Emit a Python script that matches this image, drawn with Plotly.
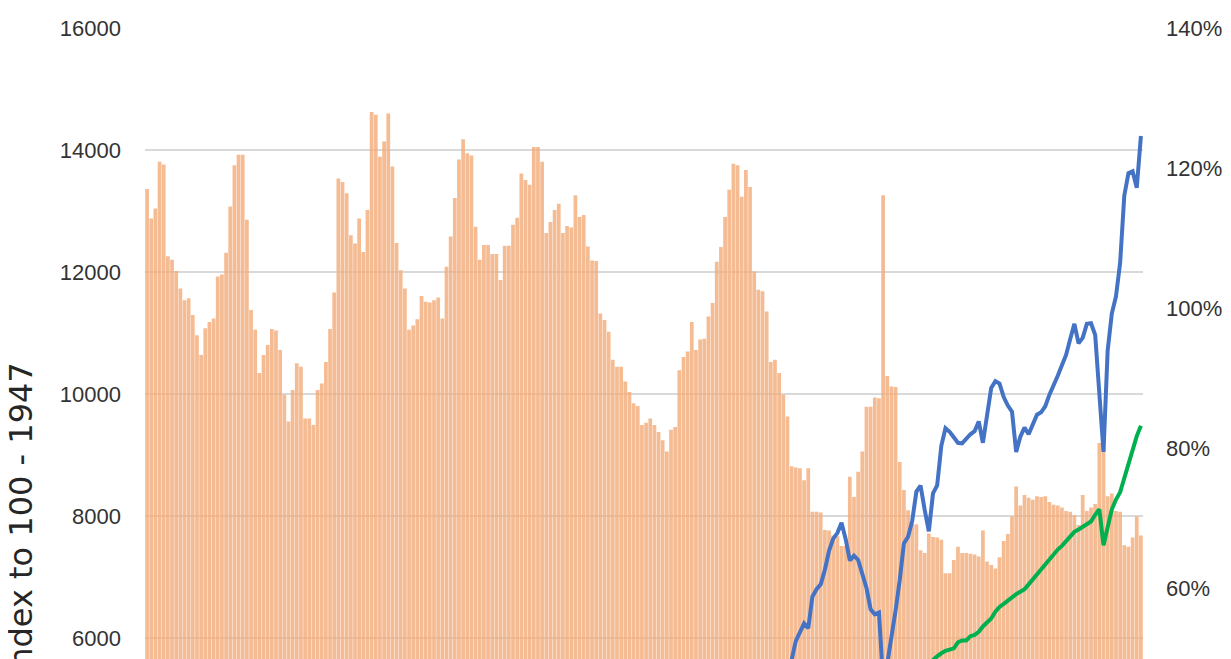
import plotly.graph_objects as go

# Quarterly periods (bar index), ratio bars in % (right axis), index lines (left axis)
periods = list(range(240))

ratio_pct = [
    117.0, 112.8, 114.2, 120.9, 120.5, 107.4, 106.9, 105.3, 102.8, 101.1,
    101.4, 99.0, 96.1, 93.3, 97.1, 98.0, 98.5, 104.5, 104.8, 107.9,
    114.5, 120.4, 121.9, 121.9, 112.6, 99.7, 96.9, 90.7, 93.3, 94.7,
    97.0, 96.8, 94.0, 87.6, 83.8, 88.3, 92.1, 91.6, 84.2, 84.2,
    83.3, 88.3, 89.2, 92.3, 97.0, 102.2, 118.5, 118.0, 116.4, 110.4,
    109.2, 112.8, 108.0, 114.0, 128.0, 127.6, 121.6, 123.8, 127.8, 120.2,
    109.3, 105.4, 102.8, 96.9, 97.5, 98.4, 101.7, 100.9, 100.8, 101.1,
    101.5, 98.5, 105.9, 110.2, 115.7, 121.2, 124.1, 122.1, 121.8, 111.6,
    106.9, 109.0, 109.0, 107.7, 107.7, 104.0, 108.9, 108.9, 111.9, 112.9,
    119.2, 118.3, 117.6, 123.0, 123.0, 120.9, 110.7, 112.3, 114.0, 114.9,
    110.7, 111.7, 111.5, 116.1, 113.0, 113.3, 108.8, 106.8, 106.7, 99.2,
    98.3, 96.6, 92.6, 91.6, 91.6, 89.5, 88.0, 86.4, 86.0, 83.3,
    83.6, 84.2, 83.3, 82.3, 81.1, 79.5, 82.6, 83.0, 91.1, 93.0,
    93.8, 98.0, 94.0, 95.5, 95.6, 98.8, 100.7, 106.6, 108.7, 113.0,
    116.9, 120.6, 120.4, 115.9, 119.7, 117.3, 105.2, 102.6, 102.4, 99.5,
    92.3, 92.6, 90.7, 87.6, 84.5, 77.4, 77.2, 77.1, 75.4, 77.1,
    70.9, 70.9, 70.8, 68.3, 68.2, 67.5, 67.4, 66.0, 66.0, 75.9,
    73.0, 76.6, 79.5, 85.9, 85.9, 87.2, 87.1, 116.1, 90.3, 88.8,
    88.7, 78.0, 74.0, 71.1, 69.2, 69.1, 65.4, 65.0, 67.8, 67.3,
    67.2, 66.9, 62.1, 62.1, 64.0, 65.9, 65.0, 65.0, 64.9, 64.8,
    64.5, 68.2, 63.8, 63.3, 62.8, 64.4, 66.7, 67.7, 70.2, 74.5,
    71.8, 73.3, 72.9, 72.6, 73.1, 73.0, 73.1, 72.3, 71.9, 71.8,
    71.5, 71.0, 70.9, 70.4, 69.0, 73.3, 71.0, 71.5, 72.0, 80.7,
    80.4, 73.1, 73.5, 71.0, 70.9, 66.1, 65.9, 67.2, 70.2, 67.5,
]

blue_start = 154
blue_index = [
    5450, 5640, 5950, 6080, 6240, 6160, 6680, 6800, 6880, 7120,
    7430, 7630, 7720, 7890, 7620, 7270, 7350, 7280, 7040, 6820,
    6470, 6390, 6420, 5300, 5580, 5970, 6450, 6950, 7550, 7660,
    7920, 8400, 8500, 8100, 7750, 8370, 8500, 9150, 9440, 9380,
    9290, 9200, 9190, 9270, 9340, 9390, 9550, 9200, 9700, 10100,
    10210, 10170, 9950, 9810, 9710, 9050, 9300, 9450, 9340, 9500,
    9660, 9700, 9800, 9990, 10130, 10300, 10470, 10640, 10900, 11150,
    10830, 10920, 11150, 11160, 10970, 10060, 9050, 10710, 11320, 11600,
    12150, 13250, 13620, 13650, 13380, 14230,
]

green_start = 188
green_index = [
    5580, 5650, 5700, 5750, 5790, 5810, 5830, 5930, 5960, 5960,
    6030, 6050, 6100, 6190, 6250, 6320, 6430, 6510, 6560, 6620,
    6680, 6720, 6760, 6800, 6880, 6960, 7050, 7130, 7220, 7300,
    7370, 7450, 7510, 7590, 7670, 7740, 7780, 7820, 7860, 7910,
    8020, 8110, 7520, 7830, 8110, 8270, 8390, 8620, 8870, 9100,
    9310, 9480,
]

left_ticks = [6000, 8000, 10000, 12000, 14000, 16000]
right_ticks = [60, 80, 100, 120, 140]
axis_title = "Index to 100 - 1947"

TICK_FONT = dict(family="Liberation Sans, Arial, sans-serif", size=22, color="#333333")

fig = go.Figure()

# bars sit on the primary y axis (drawn on the right) so the lines overlay them
fig.add_trace(go.Bar(
    x=periods, y=ratio_pct, yaxis="y",
    marker=dict(color="rgba(243,173,124,0.82)", line=dict(width=0)),
    showlegend=False,
))
fig.add_trace(go.Scatter(
    x=periods[blue_start:], y=blue_index, yaxis="y2", mode="lines",
    line=dict(color="#4472C4", width=4), showlegend=False,
))
fig.add_trace(go.Scatter(
    x=periods[green_start:], y=green_index, yaxis="y2", mode="lines",
    line=dict(color="#00B050", width=4), showlegend=False,
))

# the page body adds an 8px margin, so the figure is 8px smaller than the window
fig.update_layout(
    width=1223, height=651,
    margin=dict(l=137, r=88, t=20, b=0),
    paper_bgcolor="white", plot_bgcolor="white",
    bargap=0.1,
    xaxis=dict(range=[-0.5, len(periods) - 0.5], showticklabels=False,
               showgrid=False, zeroline=False, showline=False),
    yaxis=dict(side="right", range=[49.86, 140], tickvals=right_ticks,
               ticktext=[f"{v}%" for v in right_ticks], showgrid=False,
               zeroline=False, tickfont=TICK_FONT, ticklabelstandoff=22),
    yaxis2=dict(side="left", overlaying="y", range=[5656, 16000],
                tickvals=left_ticks, tickformat="d", showgrid=True,
                gridcolor="#D9D9D9", gridwidth=2, zeroline=False,
                tickfont=TICK_FONT, ticklabelstandoff=23),
    annotations=[dict(
        text=axis_title, textangle=-90, xref="paper", yref="paper",
        x=-0.1242, y=0.22, xanchor="center", yanchor="middle", showarrow=False,
        font=dict(family="DejaVu Sans", size=32, color="#262626"),
    )],
)

fig.write_html("out.html")
